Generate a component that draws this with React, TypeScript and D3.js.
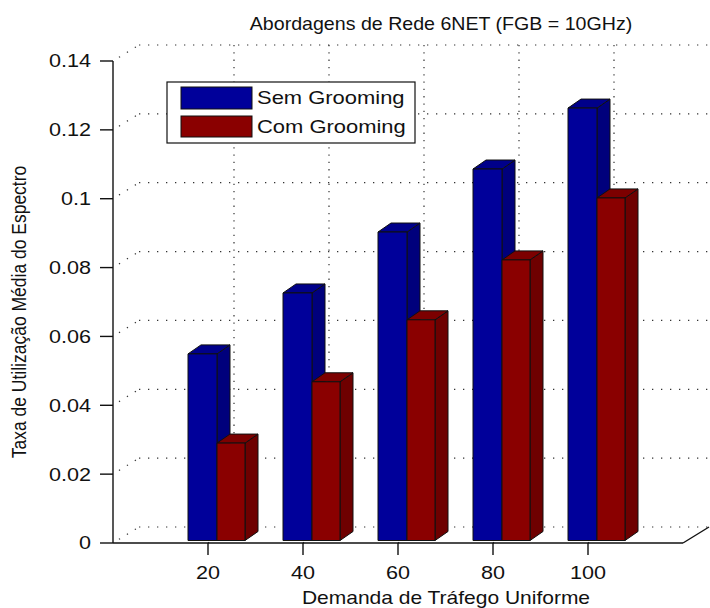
import React from "react";
import * as d3 from "d3";

const categories = [20, 40, 60, 80, 100];
const semGrooming = [0.0542, 0.0719, 0.0896, 0.1079, 0.1256];
const comGrooming = [0.0283, 0.0461, 0.0641, 0.0815, 0.0995];
const yTicks = [0, 0.02, 0.04, 0.06, 0.08, 0.1, 0.12, 0.14];
const yTickLabels = ["0", "0.02", "0.04", "0.06", "0.08", "0.1", "0.12", "0.14"];
const seriesNames = ["Sem Grooming", "Com Grooming"];
const title = "Abordagens de Rede 6NET (FGB = 10GHz)";
const xLabel = "Demanda de Tráfego Uniforme";
const yLabel = "Taxa de Utilização Média do Espectro";

const W = 710;
const H = 608;
const FONT = "'Liberation Sans', Arial, Helvetica, sans-serif";
const SX = 1.2; // horizontal stretch of the reference

// back-plane offset (depth)
const DX = 26;
const DY = -16;
// bar depth
const BDX = 13;
const BDY = -9;

const colors = {
  blue: { front: "#00009a", side: "#00007c", top: "#00008a" },
  red: { front: "#8a0000", side: "#6e0000", top: "#7c0000" },
};

function Bar({ x0, x1, yTop, yBot, c }: any) {
  const top = `M${x0},${yTop} L${x0 + BDX},${yTop + BDY} L${x1 + BDX},${yTop + BDY} L${x1},${yTop} Z`;
  const side = `M${x1},${yTop} L${x1 + BDX},${yTop + BDY} L${x1 + BDX},${yBot + BDY} L${x1},${yBot} Z`;
  return (
    <g stroke="#101010" strokeWidth={1} strokeLinejoin="round">
      <path d={side} fill={c.side} />
      <path d={top} fill={c.top} />
      <rect x={x0} y={yTop} width={x1 - x0} height={yBot - yTop} fill={c.front} />
    </g>
  );
}

function T({ x, y, anchor = "middle", size = 18, sx = SX, rotate = 0, children, dy }: any) {
  return (
    <text
      transform={`translate(${x},${y}) scale(${sx},1)${rotate ? ` rotate(${rotate})` : ""}`}
      textAnchor={anchor}
      fontFamily={FONT}
      fontSize={size}
      fill="#111"
      dy={dy}
    >
      {children}
    </text>
  );
}

export default function App() {
  const x = d3.scaleLinear().domain([0, 120]).range([113, 683]);
  const y = d3.scaleLinear().domain([0, 0.14]).range([543, 61]);
  const lift = 2.5;

  const gridColor = "#333";

  return (
    <svg
      width={W}
      height={H}
      style={{ position: "absolute", left: 0, top: 0, background: "#fff" }}
    >
      <rect x={0} y={0} width={W} height={H} fill="#fff" />
      {/* back-plane grid */}
      <g stroke={gridColor} strokeWidth={1.2} fill="none">
        {yTicks.map((t) => (
          <g key={"yg" + t}>
            <line
              x1={x(0)}
              y1={y(t)}
              x2={x(0) + DX}
              y2={y(t) + DY}
              strokeDasharray="1.3 8"
              strokeDashoffset={-7}
            />
            <line
              x1={x(0) + DX}
              y1={y(t) + DY}
              x2={x(120) + DX}
              y2={y(t) + DY}
              strokeDasharray="1.3 7.7"
            />
          </g>
        ))}
        {categories.map((c) => (
          <g key={"xg" + c}>
            <line
              x1={x(c) + DX}
              y1={y(0.14) + DY}
              x2={x(c) + DX}
              y2={y(0) + DY}
              strokeDasharray="1.3 6"
            />
            <line
              x1={x(c)}
              y1={y(0)}
              x2={x(c) + DX}
              y2={y(0) + DY}
              strokeDasharray="1.3 6"
            />
          </g>
        ))}
      </g>

      {/* bars */}
      {categories.map((c, i) => (
        <g key={"b" + c}>
          <Bar
            x0={x(c) - 20}
            x1={x(c) + 9}
            yTop={y(semGrooming[i]) - lift}
            yBot={y(0) - lift}
            c={colors.blue}
          />
          <Bar
            x0={x(c) + 9}
            x1={x(c) + 37}
            yTop={y(comGrooming[i]) - lift}
            yBot={y(0) - lift}
            c={colors.red}
          />
        </g>
      ))}

      {/* axes */}
      <g stroke="#111" strokeWidth={1.4} fill="none">
        <line x1={x(0)} y1={y(0.14)} x2={x(0)} y2={y(0)} />
        <line x1={x(0)} y1={y(0)} x2={x(120)} y2={y(0)} />
        <line x1={x(120)} y1={y(0)} x2={x(120) + DX} y2={y(0) + DY} />
        {yTicks.map((t) => (
          <line key={"yt" + t} x1={x(0) - 13} y1={y(t)} x2={x(0)} y2={y(t)} />
        ))}
        {categories.map((c) => (
          <line key={"xt" + c} x1={x(c)} y1={y(0)} x2={x(c)} y2={y(0) + 12} />
        ))}
      </g>

      {/* tick labels */}
      {yTicks.map((t, i) => (
        <T key={"yl" + t} x={91} y={y(t)} anchor="end" dy="0.36em">
          {yTickLabels[i]}
        </T>
      ))}
      {categories.map((c) => (
        <T key={"xl" + c} x={x(c)} y={579}>
          {String(c)}
        </T>
      ))}

      {/* title & labels */}
      <T x={441} y={30} size={18.5} sx={1.06}>
        {title}
      </T>
      <T x={446} y={604} size={17.5}>
        {xLabel}
      </T>
      <T x={26} y={312} size={17.5} rotate={-90}>
        {yLabel}
      </T>

      {/* legend */}
      <g>
        <rect x={167} y={82} width={248} height={61} fill="#fff" stroke="#111" strokeWidth={1.2} />
        <rect x={181} y={87} width={71} height={22} fill={colors.blue.front} stroke="#111" strokeWidth={1} />
        <rect x={181} y={116} width={71} height={21} fill={colors.red.front} stroke="#111" strokeWidth={1} />
        <T x={257} y={104} anchor="start" sx={1.22}>
          {seriesNames[0]}
        </T>
        <T x={257} y={133} anchor="start" sx={1.22}>
          {seriesNames[1]}
        </T>
      </g>
    </svg>
  );
}
